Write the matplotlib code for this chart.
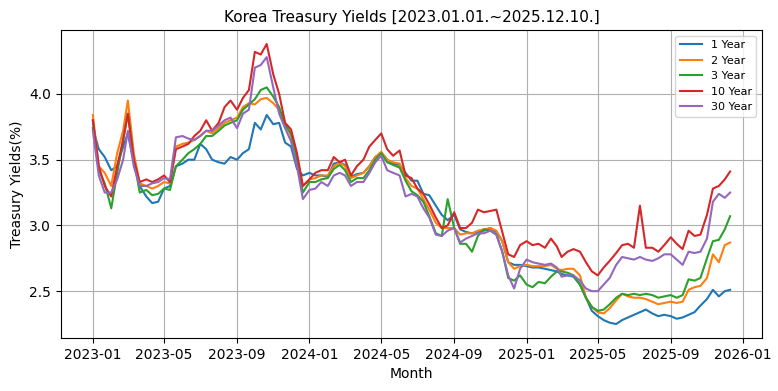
import pandas as pd
import matplotlib
matplotlib.use("Agg")
import matplotlib.pyplot as plt
import matplotlib.dates as mdates

# observation dates: 1st / 11th / 21st of each month, up to 2025-12-10
dates = [pd.Timestamp(y, m, d) for y in (2023, 2024, 2025)
         for m in range(1, 13) for d in (1, 11, 21)]
dates = [d for d in dates if d <= pd.Timestamp(2025, 12, 10)]
dates.append(pd.Timestamp(2025, 12, 10))

# yields (%), one line per year
y1 = [3.74, 3.58, 3.52, 3.42, 3.45, 3.60, 3.70, 3.48, 3.30, 3.22, 3.17, 3.18,
      3.28, 3.30, 3.45, 3.47, 3.50, 3.50, 3.62, 3.58, 3.50, 3.48, 3.47, 3.52,
      3.50, 3.55, 3.58, 3.78, 3.73, 3.84, 3.77, 3.78, 3.63, 3.60, 3.43, 3.38,
      3.40, 3.38, 3.38, 3.37, 3.47, 3.48, 3.46, 3.37, 3.39, 3.40, 3.45, 3.52,
      3.55, 3.50, 3.47, 3.46, 3.40, 3.34, 3.34, 3.24, 3.23, 3.15, 3.08, 3.04,
      3.08, 2.97, 2.95, 2.94, 2.95, 2.96, 2.98, 2.95, 2.88, 2.72, 2.70, 2.70,
      2.69, 2.68, 2.68, 2.67, 2.66, 2.65, 2.63, 2.62, 2.61, 2.55, 2.45, 2.35,
      2.31, 2.28, 2.26, 2.25, 2.28, 2.30, 2.32, 2.34, 2.36, 2.33, 2.31, 2.32,
      2.31, 2.29, 2.30, 2.32, 2.34, 2.39, 2.44, 2.51, 2.46, 2.50, 2.51]
y2 = [3.84, 3.45, 3.40, 3.30, 3.55, 3.72, 3.95, 3.55, 3.32, 3.30, 3.28, 3.30,
      3.33, 3.32, 3.60, 3.62, 3.63, 3.65, 3.68, 3.72, 3.70, 3.74, 3.78, 3.80,
      3.82, 3.90, 3.93, 3.92, 3.96, 3.97, 3.93, 3.88, 3.78, 3.68, 3.50, 3.30,
      3.35, 3.36, 3.38, 3.38, 3.45, 3.48, 3.45, 3.36, 3.38, 3.40, 3.45, 3.52,
      3.56, 3.50, 3.48, 3.47, 3.36, 3.30, 3.28, 3.20, 3.12, 3.02, 2.98, 2.98,
      2.98, 2.93, 2.94, 2.94, 2.96, 2.97, 2.98, 2.96, 2.88, 2.72, 2.67, 2.69,
      2.70, 2.69, 2.69, 2.69, 2.70, 2.67, 2.66, 2.67, 2.67, 2.62, 2.45, 2.38,
      2.34, 2.33, 2.37, 2.43, 2.48, 2.46, 2.45, 2.45, 2.44, 2.42, 2.40, 2.41,
      2.42, 2.41, 2.42, 2.51, 2.53, 2.54, 2.60, 2.78, 2.72, 2.85, 2.87]
y3 = [3.80, 3.42, 3.32, 3.13, 3.40, 3.65, 3.85, 3.50, 3.25, 3.27, 3.23, 3.24,
      3.28, 3.27, 3.45, 3.50, 3.55, 3.58, 3.62, 3.68, 3.68, 3.72, 3.76, 3.78,
      3.80, 3.88, 3.92, 3.96, 4.03, 4.05, 3.98, 3.90, 3.76, 3.70, 3.50, 3.25,
      3.33, 3.33, 3.35, 3.36, 3.43, 3.46, 3.42, 3.33, 3.36, 3.36, 3.42, 3.50,
      3.55, 3.48, 3.46, 3.44, 3.34, 3.26, 3.23, 3.18, 3.07, 2.94, 2.92, 3.20,
      2.98, 2.86, 2.86, 2.80, 2.92, 2.97, 2.96, 2.93, 2.80, 2.60, 2.58, 2.62,
      2.55, 2.53, 2.57, 2.56, 2.61, 2.65, 2.65, 2.64, 2.62, 2.55, 2.45, 2.38,
      2.35, 2.36, 2.40, 2.45, 2.48, 2.47, 2.48, 2.47, 2.48, 2.47, 2.45, 2.46,
      2.47, 2.45, 2.47, 2.59, 2.58, 2.60, 2.75, 2.88, 2.89, 2.97, 3.07]
y10 = [3.80, 3.45, 3.30, 3.22, 3.45, 3.65, 3.85, 3.50, 3.33, 3.35, 3.33, 3.35,
       3.38, 3.33, 3.58, 3.60, 3.62, 3.68, 3.72, 3.80, 3.72, 3.78, 3.90, 3.95,
       3.88, 3.97, 4.03, 4.32, 4.30, 4.38, 4.15, 4.00, 3.78, 3.73, 3.55, 3.30,
       3.35, 3.40, 3.42, 3.42, 3.52, 3.48, 3.50, 3.38, 3.45, 3.50, 3.60, 3.65,
       3.70, 3.58, 3.53, 3.57, 3.38, 3.36, 3.28, 3.24, 3.16, 3.06, 2.98, 3.00,
       3.10, 2.98, 2.98, 3.02, 3.12, 3.10, 3.11, 3.12, 2.95, 2.78, 2.76, 2.85,
       2.88, 2.85, 2.86, 2.83, 2.90, 2.84, 2.76, 2.80, 2.82, 2.80, 2.72, 2.65,
       2.62, 2.68, 2.73, 2.79, 2.85, 2.86, 2.83, 3.15, 2.83, 2.83, 2.80, 2.85,
       2.91, 2.86, 2.82, 2.96, 2.92, 2.93, 3.08, 3.28, 3.30, 3.35, 3.41]
y30 = [3.72, 3.38, 3.25, 3.25, 3.35, 3.50, 3.72, 3.45, 3.30, 3.30, 3.32, 3.33,
       3.36, 3.35, 3.67, 3.68, 3.66, 3.65, 3.68, 3.72, 3.72, 3.76, 3.80, 3.82,
       3.74, 3.85, 3.88, 4.20, 4.22, 4.28, 4.05, 3.85, 3.74, 3.64, 3.45, 3.20,
       3.27, 3.28, 3.33, 3.30, 3.38, 3.40, 3.38, 3.30, 3.33, 3.33, 3.40, 3.48,
       3.53, 3.42, 3.40, 3.38, 3.22, 3.24, 3.22, 3.13, 3.06, 2.93, 2.92, 2.96,
       2.98, 2.87, 2.90, 2.92, 2.94, 2.94, 2.96, 2.93, 2.80, 2.62, 2.52, 2.67,
       2.74, 2.72, 2.71, 2.70, 2.71, 2.68, 2.61, 2.62, 2.62, 2.58, 2.52, 2.50,
       2.50, 2.55, 2.60, 2.70, 2.76, 2.75, 2.74, 2.76, 2.74, 2.73, 2.75, 2.78,
       2.78, 2.74, 2.70, 2.80, 2.79, 2.80, 2.90, 3.18, 3.24, 3.21, 3.25]

labels = ['1 Year', '2 Year', '3 Year', '10 Year', '30 Year']
series = [y1, y2, y3, y10, y30]

fig = plt.figure(figsize=(7.78, 3.91), dpi=100)
ax = fig.add_axes([0.0784, 0.1355, 0.901, 0.7878])

for lab, vals in zip(labels, series):
    ax.plot(dates, vals, label=lab)

ax.xaxis.set_major_locator(mdates.MonthLocator(bymonth=[1, 5, 9]))
ax.xaxis.set_major_formatter(mdates.DateFormatter('%Y-%m'))
ax.set_yticks([2.5, 3.0, 3.5, 4.0])
ax.grid(True)
ax.set_title('Korea Treasury Yields [2023.01.01.~2025.12.10.]', fontsize=11)
ax.set_xlabel('Month')
ax.set_ylabel('Treasury Yields(%)')
ax.legend(loc='upper right', fontsize=8)

fig.savefig('out.png', dpi=100)
